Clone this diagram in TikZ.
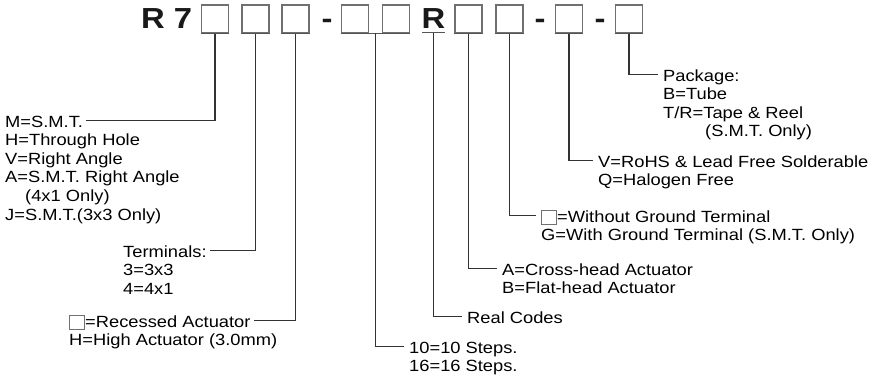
\documentclass[tikz,border=0pt]{standalone}
\usepackage{fontspec}
\setmainfont{Liberation Sans}[FakeStretch=1.13]
\definecolor{boxgray}{HTML}{707070}
\definecolor{boxdark}{HTML}{555555}
\definecolor{linegray}{HTML}{333333}
\newcommand\ebox{\textcolor{boxgray}{\setlength\fboxsep{0pt}\setlength\fboxrule{1bp}\raisebox{-1.5bp}{\fbox{\rule{0pt}{13bp}\hspace{14bp}}}}}
\begin{document}
\begin{tikzpicture}[x=1bp,y=-1bp,
  codebox/.style={draw=boxgray,line width=1.1bp,minimum width=27bp,minimum height=28bp,inner sep=0pt},
  boxbottom/.style={draw=boxdark,line width=1.8bp},
  big/.style={font=\fontsize{29bp}{30bp}\selectfont\bfseries,inner sep=0pt,anchor=base,text=black!90},
  lbl/.style={font=\fontsize{16.2bp}{18.6bp}\selectfont,inner sep=0pt,align=left,anchor=base west},
  head/.style={lbl,text height=13.5bp,text depth=0bp},
  conn/.style={draw=linegray,line width=1.1bp},
  connr/.style={conn,shorten >=5bp},
  connl/.style={conn,shorten >=3bp}]
\useasboundingbox (0,0) rectangle (874,379);
% code line
\node[big,anchor=base west] (r7) at (141,28) {R 7};
\node[codebox] (b1) at (215,19) {};
\node[codebox] (b2) at (255.5,19) {};
\node[codebox] (b3) at (295.5,19) {};
\node[big] (d1) at (327,28) {-};
\node[codebox] (b4) at (355,19) {};
\node[codebox] (b5) at (396,19) {};
\node[big] (rr) at (433.5,28) {R};
\node[codebox] (b6) at (468.5,19) {};
\node[codebox] (b7) at (509.5,19) {};
\node[big] (d2) at (540,28) {-};
\node[codebox] (b8) at (569,19) {};
\node[big] (d3) at (600,28) {-};
\node[codebox] (b9) at (629,19) {};
\foreach \b in {b1,b2,b3,b6,b7,b8,b9}
  \draw[boxbottom] (\b.south west) -- (\b.south east);
\draw[boxbottom] (b4.south west) -- (b5.south east);
\coordinate (ru1) at (422,32.5);
\coordinate (ru2) at (445,32.5);
\draw[boxbottom] (ru1) -- (ru2);
\coordinate (b45) at (375.5,33);
\coordinate (ru) at (433.5,33);
% labels (base of a multi-line node = baseline of its last line)
\node[head] (mh) at (5,127) {M=S.M.T.};
\node[lbl] (mb) at (5,220) {H=Through Hole\\V=Right Angle\\A=S.M.T. Right Angle\\\hspace*{20bp}(4x1 Only)\\J=S.M.T.(3x3 Only)};
\node[head] (th) at (123,257) {Terminals:};
\node[lbl] (tb) at (123,294.2) {3=3x3\\4=4x1};
\node[head] (eh) at (69,327) {\ebox=Recessed Actuator};
\node[lbl] (eb) at (69,345.6) {H=High Actuator (3.0mm)};
\node[head] (sh) at (409,353) {10=10 Steps.};
\node[lbl] (sb) at (409,371.6) {16=16 Steps.};
\node[head] (rc) at (467,323) {Real Codes};
\node[head] (ah) at (502,275) {A=Cross-head Actuator};
\node[lbl] (ab) at (502,293.6) {B=Flat-head Actuator};
\node[head] (wh) at (541,222) {\ebox=Without Ground Terminal};
\node[lbl] (wb) at (541,240.6) {G=With Ground Terminal (S.M.T. Only)};
\node[head] (vh) at (598,167) {V=RoHS \& Lead Free Solderable};
\node[lbl] (vb) at (598,185.6) {Q=Halogen Free};
\node[head] (ph) at (663,81) {Package:};
\node[lbl] (pb) at (663,136.8) {B=Tube\\T/R=Tape \& Reel\\\hspace*{42bp}(S.M.T. Only)};
% connectors
\draw[connl] ([yshift=-0.9bp]b1.south) |- (mh.east);
\draw[connl] ([yshift=-0.9bp]b2.south) |- (th.east);
\draw[connl] ([yshift=-0.9bp]b3.south) |- (eh.east);
\draw[connr] (b45) |- (sh.west);
\draw[connr] (ru) |- (rc.west);
\draw[connr] ([yshift=-0.9bp]b6.south) |- (ah.west);
\draw[connr] ([yshift=-0.9bp]b7.south) |- (wh.west);
\draw[connr] ([yshift=-0.9bp]b8.south) |- (vh.west);
\draw[connr] ([yshift=-0.9bp]b9.south) |- (ph.west);
\end{tikzpicture}
\end{document}
